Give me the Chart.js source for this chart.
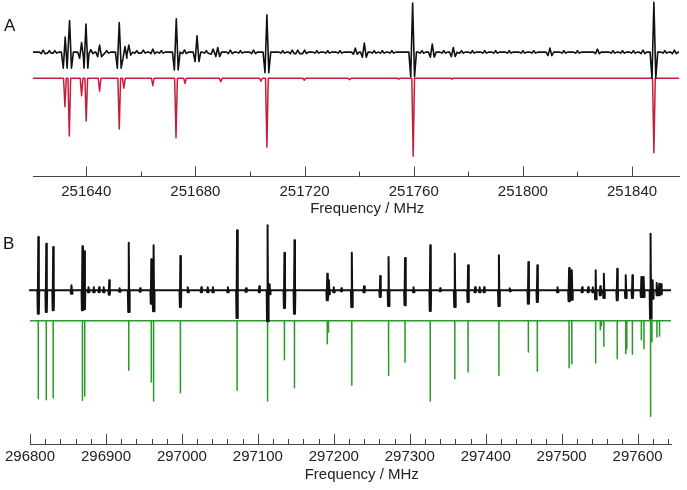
<!DOCTYPE html>
<html>
<head>
<meta charset="utf-8">
<script src="https://cdn.jsdelivr.net/npm/chart.js@4.4.1/dist/chart.umd.min.js"></script>
<style>
  body { margin: 0; background: #fff; width: 687px; height: 490px; position: relative; overflow: hidden;
         font-family: "Liberation Sans", Arial, sans-serif; }
  .panel { position: absolute; left: 0; width: 687px; }
  .tag { position: absolute; font-size: 17px; line-height: 17px; color: #111; }
</style>
</head>
<body>
<div class="panel" style="top:0;height:224px"><canvas id="chartA"></canvas></div>
<div class="panel" style="top:224px;height:266px"><canvas id="chartB"></canvas></div>
<div class="tag" style="left:4px;top:17px">A</div>
<div class="tag" style="left:3px;top:235px">B</div>
<script>
// Panel A - observed lines (MHz), height above / dip below baseline
const aExpFreq = [251624.2, 251626.5, 251628.5, 251632.3, 251633.9, 251638.3, 251639.9, 251641.7, 251644.9, 251647.5,
  251652.1, 251654.2, 251655.6, 251658.5, 251660.9, 251664.4, 251667.5, 251673.0, 251676.0, 251680.6,
  251684.0, 251686.5, 251688.2, 251692.8, 251696.5, 251701.3, 251706.2, 251712.0, 251715.5, 251717.5,
  251720.0, 251724.5, 251728.5, 251733.0, 251738.6, 251741.9, 251745.5, 251748.5, 251752.0, 251759.6,
  251763.0, 251766.8, 251771.0, 251774.5, 251777.5, 251781.5, 251786.0, 251790.0, 251795.0, 251800.0,
  251804.0, 251809.9, 251815.0, 251820.0, 251827.3, 251833.0, 251836.5, 251840.5, 251844.0, 251848.0,
  251852.0, 251855.5];
const aExpUp = [2, 1.5, 1.5, 15, 31.6, 9.6, 28, 2.5, 7, 1.5,
  29.6, 5.6, 7, 1.5, 2, 3, 1.5, 33.3, 2.3, 16.3,
  1.5, 3, 4.6, 2, 1.5, 2, 37.3, 1.5, 2, 2,
  2, 1.5, 1.5, 1.5, 4, 9, 1.5, 1.5, 1.5, 49,
  1.5, 8, 1.5, 4.6, 1.5, 1.5, 1.5, 1.5, 1.5, 1.5,
  1.5, 4, 1.5, 1.5, 3, 1.5, 1.5, 1.5, 2, 49.6,
  1.5, 2];
const aExpDown = [1.5, 1, 1, 16, 16, 6, 16, 1.5, 4.5, 1,
  16, 6, 3, 1, 1, 1.5, 1, 17.7, 1.5, 9.4,
  1, 2, 4.4, 1.5, 1, 1.5, 20.4, 1, 1.5, 1.5,
  1.5, 1, 1, 1, 2, 5, 1, 1, 1, 24.4,
  1, 5, 1, 4.4, 1, 1, 1, 1, 1, 1,
  1, 3.5, 1, 1, 1.5, 1, 1, 1, 1.5, 26,
  1, 1.5];

// Panel A - predicted lines (MHz), depth
const aCalcFreq = [251632.2, 251633.8, 251638.3, 251640.0, 251644.9, 251652.1, 251653.8, 251664.4, 251672.9, 251676.2,
  251689.3, 251704.0, 251706.2, 251719.9, 251736.5, 251754.5, 251759.8, 251774.1, 251848.0];
const aCalcDepth = [28.4, 57.7, 17.4, 42.7, 13, 50.7, 10, 7.4, 59.4, 5,
  3.4, 3, 68.7, 2, 1.5, 1, 77.7, 1, 74.4];

// Panel B - observed lines
const bExpFreq = [296810.9, 296821.4, 296830.5, 296854.6, 296869.0, 296871.6, 296877, 296884, 296891, 296897,
  296904.3, 296918, 296930.0, 296945, 296959.7, 296962.7, 296998.0, 297008, 297025.6, 297034,
  297040.8, 297060.5, 297072.6, 297084.4, 297101.9, 297112.8, 297115.5, 297135.0, 297148.2, 297191.4,
  297193.6, 297200, 297210, 297223.7, 297239.8, 297261.1, 297272.1, 297293.8, 297305, 297327.0,
  297340, 297359.3, 297376.8, 297386, 297392, 297398, 297417.4, 297432, 297456.2, 297468.0,
  297494.6, 297509.8, 297513.4, 297527, 297535, 297541, 297544.8, 297550.9, 297555.6, 297573.2,
  297584.4, 297593.2, 297605.0, 297608.0, 297617.1, 297619.8, 297625.5, 297628.5, 297631];
const bExpUp = [53.3, 46.6, 43.3, 5, 44, 39, 3, 3, 3, 3,
  10, 2, 47.6, 2, 31, 45, 34.3, 3, 3, 3,
  3, 3, 60, 2, 4, 65, 6, 37.6, 50, 16.6,
  10, 3, 2, 37.6, 4, 14.3, 33.3, 32.3, 3, 45,
  2, 36.6, 25, 3, 3, 3, 35, 2, 28.3, 25,
  3, 22.3, 20, 3, 3, 3, 20, 4, 16.6, 21.6,
  15, 15, 13.3, 13.3, 56.6, 10, 7.3, 6.6, 6];
const bExpDown = [23.4, 21.7, 20, 3.4, 20, 19, 2, 2, 2, 2,
  4.4, 1.5, 21.7, 1.5, 13.4, 21, 16.7, 2, 2, 2,
  2, 2, 27.7, 1.5, 2, 31, 4, 17.7, 23.4, 10,
  4, 2, 1, 16.7, 2, 6.7, 15.7, 15, 2, 20.7,
  1, 16.7, 11.7, 2, 2, 2, 15.7, 1, 13.4, 11.7,
  2, 11, 9.4, 2, 2, 2, 9, 5, 7.7, 10,
  7.7, 7.7, 6.7, 6.7, 28.4, 8.4, 5, 5, 4];

// Panel B - predicted lines
const bCalcFreq = [296810.9, 296821.4, 296830.5, 296869.0, 296872.0, 296930.0, 296959.7, 296962.7, 296998.0, 297072.6,
  297112.8, 297135.0, 297148.2, 297191.4, 297193.0, 297223.7, 297272.1, 297293.8, 297327.0, 297359.3,
  297376.8, 297417.4, 297456.2, 297468.0, 297509.8, 297513.4, 297544.8, 297550.9, 297552.5, 297555.6,
  297573.2, 297584.4, 297585.8, 297593.2, 297605.0, 297608.4, 297617.1, 297618.9, 297625.5, 297628.9];
const bCalcDepth = [78, 79, 77, 79.6, 75.3, 49.6, 61.3, 80.3, 72, 69.6,
  80.3, 39, 67, 23, 11.3, 64.6, 54.6, 41.3, 80.3, 58,
  51.3, 54.6, 31.3, 50.6, 47, 43, 42.3, 9, 5, 25.6,
  38, 33, 28, 33.6, 19, 28, 95.6, 21, 16.3, 15.3];

// axis ticks
const aMajorTicks = [251640, 251680, 251720, 251760, 251800, 251840];
const aMinorTicks = [251660, 251700, 251740, 251780, 251820];
const bMajorTicks = [296800, 296900, 297000, 297100, 297200, 297300, 297400, 297500, 297600];
const bMinorTicks = [];
for (let t = 296820; t <= 297640; t += 20) {
  if (t % 100 !== 0) bMinorTicks.push(t);
}

// title text, em/en space in front pushes it a bit right like the original
const axisTitle = "\u2003\u2002Frequency / MHz";

// observed trace: dip - peak - dip around each line
function expTrace(freq, up, down, lobe, edge, lo, hi) {
  var pts = [{ x: lo, y: 0 }];
  freq.forEach(function (f, i) {
    var prevGap = i > 0 ? f - freq[i - 1] : Infinity;
    var nextGap = i < freq.length - 1 ? freq[i + 1] - f : Infinity;
    if (prevGap > 2 * edge) pts.push({ x: f - edge, y: 0 });
    pts.push({ x: f - lobe, y: -down[i] });
    pts.push({ x: f, y: up[i] });
    pts.push({ x: f + lobe, y: -down[i] });
    if (nextGap > 2 * edge) pts.push({ x: f + edge, y: 0 });
  });
  pts.push({ x: hi, y: 0 });
  return pts;
}

// predicted trace: narrow downward sticks from an offset baseline
function calcTrace(freq, depth, half, offset, lo, hi) {
  var pts = [{ x: lo, y: offset }];
  freq.forEach(function (f, i) {
    pts.push({ x: f - half, y: offset });
    pts.push({ x: f, y: offset - depth[i] });
    pts.push({ x: f + half, y: offset });
  });
  pts.push({ x: hi, y: offset });
  return pts;
}

function tickMarks(major, minor) {
  return {
    id: "tickMarks",
    afterDraw: function (chart) {
      var ctx = chart.ctx;
      var sx = chart.scales.x;
      var y0 = chart.chartArea.bottom;
      ctx.save();
      ctx.strokeStyle = "#444";
      ctx.lineWidth = 1;
      ctx.beginPath();
      major.forEach(function (v) {
        var x = Math.round(sx.getPixelForValue(v)) + 0.5;
        ctx.moveTo(x, y0);
        ctx.lineTo(x, y0 - 10);
      });
      minor.forEach(function (v) {
        var x = Math.round(sx.getPixelForValue(v)) + 0.5;
        ctx.moveTo(x, y0);
        ctx.lineTo(x, y0 - 5);
      });
      ctx.stroke();
      ctx.restore();
    }
  };
}

function makeChart(id, cfg) {
  return new Chart(document.getElementById(id), {
    type: "line",
    data: {
      datasets: [
        { data: cfg.exp, borderColor: "#111111", borderWidth: cfg.expWidth, clip: false },
        { data: cfg.calc, borderColor: cfg.color, borderWidth: 1.5, clip: false }
      ]
    },
    options: {
      responsive: true,
      maintainAspectRatio: false,
      animation: false,
      layout: { padding: { left: cfg.left, right: cfg.right, top: 0, bottom: 5.5 } },
      elements: {
        point: { radius: 0 },
        line: { tension: 0, borderJoinStyle: "round" }
      },
      plugins: { legend: { display: false }, tooltip: { enabled: false } },
      scales: {
        x: {
          type: "linear",
          min: cfg.min,
          max: cfg.max,
          grid: { display: false, drawTicks: false, tickLength: 0 },
          border: { display: true, color: "#444", width: 1 },
          afterBuildTicks: function (s) {
            s.ticks = cfg.ticks.map(function (v) { return { value: v }; });
          },
          ticks: {
            padding: cfg.tickPad,
            color: "#222",
            maxRotation: 0,
            autoSkip: false,
            font: { family: "'Liberation Sans', Arial, sans-serif", size: 15, lineHeight: 1 },
            callback: function (v) { return String(v); }
          },
          title: {
            display: true,
            text: axisTitle,
            color: "#222",
            font: { family: "'Liberation Sans', Arial, sans-serif", size: 15, lineHeight: 1 },
            padding: { top: cfg.titlePad, bottom: 2 }
          }
        },
        y: { display: false, min: cfg.ymin, max: cfg.ymax }
      }
    },
    plugins: [tickMarks(cfg.ticks, cfg.minor)]
  });
}

makeChart("chartA", {
  exp: expTrace(aExpFreq, aExpUp, aExpDown, 0.7, 1.4, 251620.5, 251857.2),
  calc: calcTrace(aCalcFreq, aCalcDepth, 0.5, -26, 251620.5, 251857.2),
  color: "#c41e3a",
  expWidth: 1.6,
  min: 251620.5, max: 251857.2,
  ymin: -124, ymax: 52,
  left: 33, right: 8,
  ticks: aMajorTicks, minor: aMinorTicks,
  tickPad: 7.5, titlePad: -5
});

makeChart("chartB", {
  exp: expTrace(bExpFreq, bExpUp, bExpDown, 0.7, 1.2, 296798.7, 297644),
  calc: calcTrace(bCalcFreq, bCalcDepth, 0.05, -30.4, 296800, 297644),
  color: "#2a9a2a",
  expWidth: 2,
  min: 296800, max: 297644,
  ymin: -153.7, ymax: 66.3,
  left: 26, right: 16,
  ticks: bMajorTicks, minor: bMinorTicks,
  tickPad: 5, titlePad: -1.5
});
</script>
</body>
</html>
